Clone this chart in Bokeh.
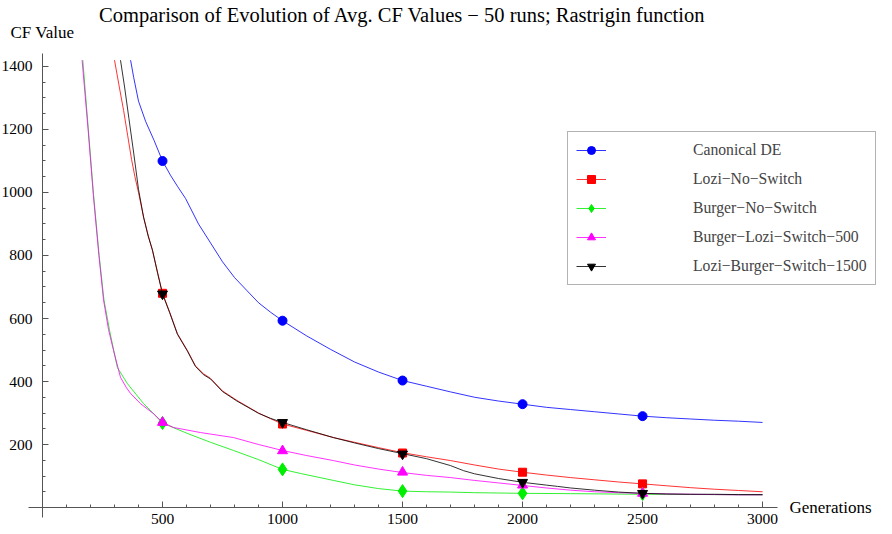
from bokeh.plotting import figure
from bokeh.models import Range1d, FixedTicker, Label, Legend, LegendItem
from bokeh.embed import file_html
from bokeh.resources import INLINE

title_text = "Comparison of Evolution of Avg. CF Values \u2212 50 runs; Rastrigin function"
y_title = "CF Value"
x_title = "Generations"
series_names = ["Canonical DE", "Lozi\u2212No\u2212Switch", "Burger\u2212No\u2212Switch",
                "Burger\u2212Lozi\u2212Switch\u2212500", "Lozi\u2212Burger\u2212Switch\u22121500"]

x_ticks = [500, 1000, 1500, 2000, 2500, 3000]
x_minor = [g for g in range(100, 3001, 100)]
y_ticks = [200, 400, 600, 800, 1000, 1200, 1400]
y_minor = [v for v in range(50, 1401, 50)]

# Canonical DE
canon_gen = [367, 380, 400, 430, 465, 500, 533, 562, 596, 650, 700, 750, 800, 850, 900, 950, 1000,
             1100, 1200, 1300, 1400, 1500, 1600, 1700, 1800, 1900, 2000, 2100, 2200, 2300, 2400,
             2500, 2600, 2700, 2800, 2900, 3000]
canon_val = [1420, 1365, 1290, 1225, 1165, 1100, 1055, 1020, 981, 900, 840, 780, 730, 690, 650, 620, 593,
             545, 502, 462, 430, 403, 385, 367, 350, 338, 328, 318, 311, 304, 297,
             290, 285, 281, 277, 274, 270]

# Lozi-No-Switch
lozi_gen = [300, 320, 338, 355, 371, 385, 400, 421, 440, 458, 480, 500, 530, 562, 604, 637, 670, 700,
            750, 810, 900, 950, 1000, 1100, 1212, 1300, 1400, 1500, 1600, 1700, 1800, 1900, 2000,
            2100, 2200, 2300, 2400, 2500, 2600, 2700, 2800, 2900, 3000]
lozi_val = [1420, 1335, 1260, 1180, 1105, 1050, 1000, 922, 865, 816, 745, 680, 620, 552, 498, 450, 425, 410,
            370, 340, 300, 282, 265, 245, 222, 207, 190, 174, 161, 149, 135, 122, 112,
            103, 95, 88, 81, 75, 69, 63, 58, 54, 50]

# Burger-No-Switch
burger_gen = [168, 190, 213, 236, 256, 280, 312, 354, 421, 460, 500, 604, 700, 796, 900, 1000, 1075,
              1212, 1300, 1400, 1500, 1600, 1700, 1800, 1900, 2000, 2200, 2500, 2800, 3000]
burger_val = [1420, 1210, 990, 800, 660, 560, 444, 393, 330, 300, 268, 235, 207, 181, 152, 121, 108,
              86, 72, 60, 52, 50, 49, 47, 46, 45, 44, 42, 41, 40]

# Burger-Lozi-Switch-500
bl_gen = [165, 190, 212, 235, 254, 275, 296, 325, 350, 367, 408, 462, 500, 546, 658, 796, 900, 1000,
          1100, 1212, 1300, 1400, 1500, 1600, 1700, 1800, 1900, 2000, 2100, 2200, 2300, 2400, 2500,
          2600, 2700, 2800, 2900, 3000]
bl_val = [1420, 1200, 990, 800, 660, 565, 498, 413, 380, 362, 330, 298, 270, 254, 238, 222, 200, 181,
          165, 149, 135, 122, 111, 102, 95, 86, 78, 70, 62, 55, 50, 47, 45,
          43, 42, 41, 40, 40]

# Lozi-Burger-Switch-1500
lb_gen = [325, 342, 360, 380, 400, 421, 440, 458, 480, 500, 530, 562, 604, 637, 670, 700,
          750, 810, 900, 950, 1000, 1100, 1212, 1300, 1400, 1500, 1600, 1700, 1754, 1800, 1900, 2000,
          2100, 2146, 2200, 2300, 2400, 2500, 2600, 2700, 2800, 2900, 3000]
lb_val = [1420, 1335, 1235, 1125, 1010, 922, 862, 818, 742, 678, 618, 550, 496, 448, 422, 408,
          368, 338, 299, 283, 270, 247, 222, 205, 187, 171, 155, 133, 117, 107, 92, 80,
          71, 67, 62, 55, 49, 45, 43, 42, 42, 41, 41]

marker_gen = [500, 1000, 1500, 2000, 2500]
canon_mk = [1100, 593, 403, 328, 290]
lozi_mk = [680, 265, 173, 112, 75]
burger_mk = [268, 121, 52, 45, 43]
bl_mk = [270, 180, 112, 71, 45]
lb_mk = [678, 270, 170, 80, 45]

FONT = "Liberation Serif"
W, H = 884, 530

p = figure(width=W, height=H, x_range=Range1d(-175, 3508), y_range=Range1d(-73, 1609.5),
           output_backend="svg", toolbar_location=None, title=None,
           min_border_left=0, min_border_right=0, min_border_top=0, min_border_bottom=0)
p.outline_line_color = None
p.grid.visible = False
p.background_fill_color = "white"
p.border_fill_color = "white"

for ax in (p.xaxis[0], p.yaxis[0]):
    ax.fixed_location = 0
    ax.axis_line_color = "#555555"
    ax.axis_line_width = 1
    ax.major_tick_line_color = "#555555"
    ax.minor_tick_line_color = "#555555"
    ax.major_tick_in = 6
    ax.major_tick_out = 0
    ax.minor_tick_in = 3
    ax.minor_tick_out = 0
    ax.major_label_text_font = FONT
    ax.major_label_text_font_size = "15.5px"
    ax.major_label_text_color = "black"

p.xaxis[0].bounds = (-58, 3062)
p.yaxis[0].bounds = (-32, 1441)
p.xaxis[0].ticker = FixedTicker(ticks=x_ticks, minor_ticks=x_minor)
p.yaxis[0].ticker = FixedTicker(ticks=y_ticks, minor_ticks=y_minor)
p.xaxis[0].major_label_standoff = 6
p.yaxis[0].major_label_standoff = 10

specs = [
    (canon_gen, canon_val, canon_mk, "#0000ff", "circle", 9),
    (lozi_gen, lozi_val, lozi_mk, "#ff0000", "square", 8),
    (burger_gen, burger_val, burger_mk, "#00ee00", "diamond", 13),
    (bl_gen, bl_val, bl_mk, "#ff00ff", "triangle", 10),
    (lb_gen, lb_val, lb_mk, "#000000", "inverted_triangle", 10),
]

items = []
for name, (gx, gy, mk, col, mtype, msize) in zip(series_names, specs):
    lr = p.line(gx, gy, line_color=col, line_width=1, line_alpha=0.8)
    sr = p.scatter(marker_gen, mk, marker=mtype, size=msize, fill_color=col, line_color=col)
    items.append(LegendItem(label=name, renderers=[lr, sr]))

legend = Legend(items=items, location=(567, 245), padding=8, spacing=9, margin=0,
                label_height=20, glyph_height=20, glyph_width=30, label_standoff=87,
                label_text_font=FONT, label_text_font_size="15.7px",
                border_line_color="#666666", border_line_width=1,
                background_fill_color="white", background_fill_alpha=1)
p.add_layout(legend, "center")

p.add_layout(Label(x=402, y=H - 14, x_units="screen", y_units="screen", text=title_text,
                   text_font=FONT, text_font_size="20.5px", text_align="center",
                   text_baseline="middle", text_color="black"))
p.add_layout(Label(x=10, y=H - 32, x_units="screen", y_units="screen", text=y_title,
                   text_font=FONT, text_font_size="17px", text_align="left",
                   text_baseline="middle", text_color="black"))
p.add_layout(Label(x=789, y=H - 507, x_units="screen", y_units="screen", text=x_title,
                   text_font=FONT, text_font_size="17px", text_align="left",
                   text_baseline="middle", text_color="black"))

open("out.html", "w").write(file_html(p, INLINE))
